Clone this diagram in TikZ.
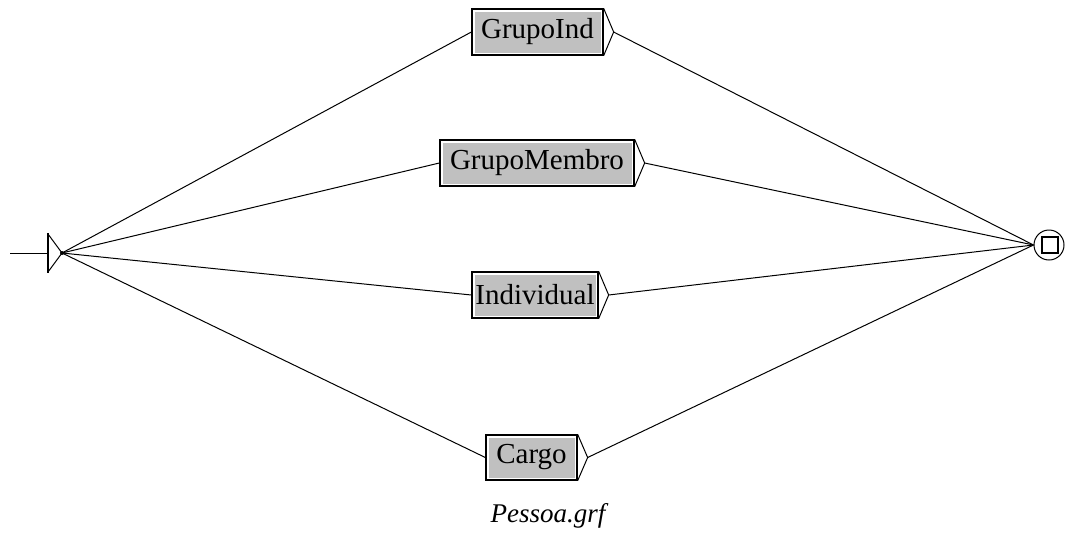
\documentclass[tikz,border=0pt]{standalone}
\usepackage{fontspec}
\setmainfont{Liberation Serif}
\usetikzlibrary{calc}
\definecolor{boxgray}{RGB}{192,192,192}
\begin{document}
\begin{tikzpicture}[x=1pt,y=-1pt,
  box/.style={draw, line width=1.3pt, fill=white, minimum height=46pt, inner sep=0pt,
    font=\fontsize{29}{29}\selectfont,
    path picture={\fill[boxgray] ([shift={(2.5pt,-2.5pt)}]path picture bounding box.north west) rectangle ([shift={(-2.5pt,2.5pt)}]path picture bounding box.south east);}},
  edge/.style={line width=1pt},
  chev/.style={line width=1pt}]
\useasboundingbox (0,0) rectangle (1066,536);
% start state
\coordinate (in) at (10,253);
\coordinate (tb) at (48,253);
\coordinate (s) at (62,253);
\draw[edge] (in) -- (tb);
\draw[line width=1.6pt] (48,233) -- (48,273);
\draw[chev] (48,234) -- (s) -- (48,272);
\fill (s) circle (2pt);
% final state
\node[circle, draw, line width=1pt, minimum size=30pt, inner sep=0pt] (f) at (1049,245) {};
\node[draw, line width=1.2pt, minimum size=16pt, inner sep=0pt] (fs) at (1050,245) {};
% boxes
\node[box, minimum width=131pt] (gi) at (537.5,32) {GrupoInd};
\node[box, minimum width=194pt] (gm) at (537,163) {GrupoMembro};
\node[box, minimum width=126pt] (ind) at (535,295) {Individual};
\node[box, minimum width=91pt, minimum height=45pt] (ca) at (531.5,457.5) {Cargo};
\foreach \b in {gi,gm,ind,ca}{
  \coordinate (\b T) at ($(\b.east)+(10,0)$);
  \draw[chev] (\b.north east) -- (\b T) -- (\b.south east);
  \draw[edge] (s) -- (\b.west);
  \draw[edge] (\b T) -- (f.west);
}
% caption
\node[font=\fontsize{27}{27}\selectfont\itshape] (cap) at (548,516) {Pessoa.grf};
\end{tikzpicture}
\end{document}
